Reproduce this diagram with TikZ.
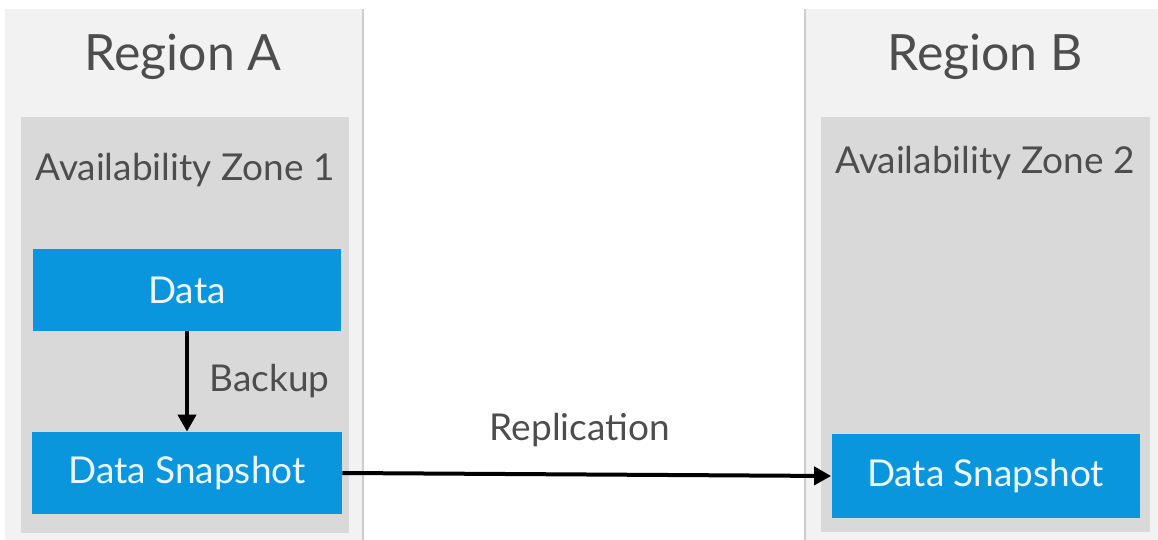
\documentclass[tikz,border=0pt]{standalone}
\usepackage{fontspec}
\setmainfont{Lato}
\usetikzlibrary{arrows.meta, positioning}

\definecolor{regionfill}{HTML}{F2F2F2}
\definecolor{regionline}{HTML}{CCCCCC}
\definecolor{zonefill}{HTML}{D9D9D9}
\definecolor{boxblue}{HTML}{0A96DC}
\definecolor{labelgray}{HTML}{4D4D4D}

\begin{document}
\begin{tikzpicture}[
    x=0.5pt, y=-0.5pt,
    region/.style={fill=regionfill, draw=none},
    zone/.style={fill=zonefill, draw=none, inner sep=0pt},
    title/.style={text=labelgray, font=\fontsize{25}{29}\selectfont},
    caption/.style={text=labelgray, font=\fontsize{18.5}{22}\selectfont},
    block/.style={fill=boxblue, text=white!92!boxblue, inner sep=0pt,
        minimum width=154pt, minimum height=40.5pt, font=\fontsize{18.5}{22}\selectfont},
    arrow/.style={-{Triangle[length=8.5pt, width=9pt]}, line width=2pt, draw=black}
]
\useasboundingbox (0,0) rectangle (1158,540);
% regions
\fill[region] (5,9) rectangle (363,540);
\fill[region] (805,9) rectangle (1158,540);
\draw[regionline, line width=0.8pt] (363,9) -- (363,540);
\draw[regionline, line width=0.8pt] (805,9) -- (805,540);
\node[title] (titleA) at (183,57) {Region A};
\node[title] (titleB) at (985,57) {Region B};

% availability zones
\node[zone, minimum width=164pt, minimum height=208pt] (zone1) at (185,325) {};
\node[zone, minimum width=164.5pt, minimum height=207.5pt] (zone2) at (985.5,324.5) {};
\node[caption] (zlabel1) at (185,170) {Availability Zone 1};
\node[caption] (zlabel2) at (985,163) {Availability Zone 2};

% data boxes
\node[block] (data) at (187,290) {Data};
\node[block, minimum width=155pt, minimum height=41pt] (snapA) at (187,473) {Data Snapshot};
\node[block, minimum height=42pt] (snapB) at (985.5,476) {Data Snapshot};

\draw[arrow] (data) -- node[caption, right=7pt] (backup) {Backup} (snapA);
\draw[arrow] (snapA.east) -- (snapB.west);
\node[caption] (repl) at (580,430) {Replication};
\end{tikzpicture}
\end{document}
